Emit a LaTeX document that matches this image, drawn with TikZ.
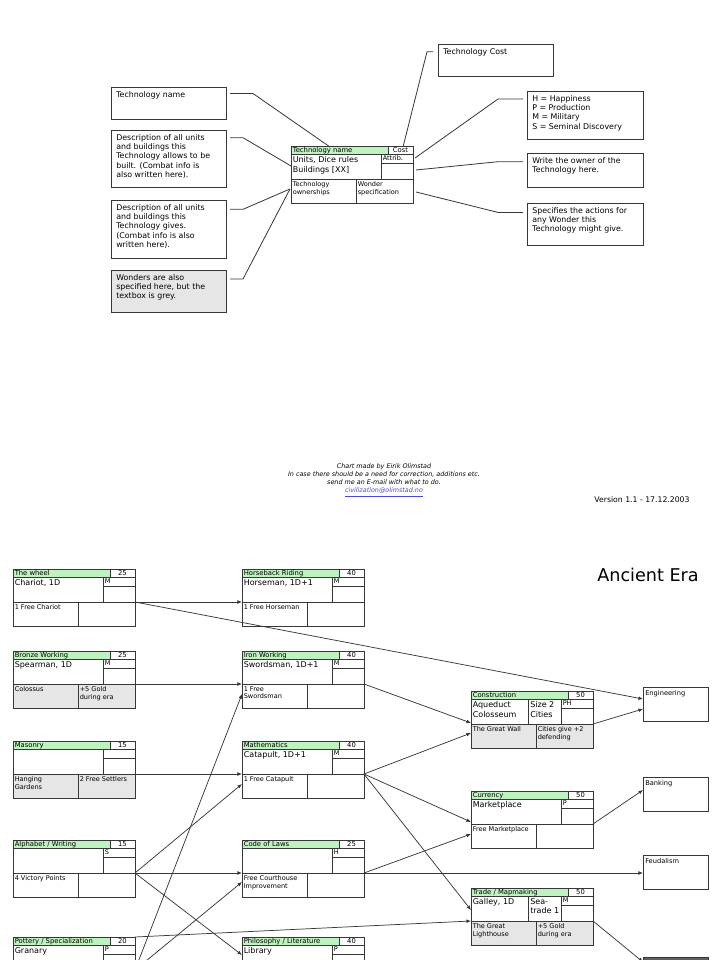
\documentclass[tikz,border=0pt]{standalone}
\usepackage{fontspec}
\setmainfont{DejaVu Sans}
\usetikzlibrary{calc,arrows.meta}

\definecolor{hdrgreen}{RGB}{190,242,190}
\definecolor{wgray}{RGB}{230,230,230}
\definecolor{lnc}{RGB}{55,55,55}
\definecolor{linkblue}{RGB}{70,70,220}
\definecolor{darkbox}{RGB}{95,95,95}

\tikzset{
  frame/.style={draw=lnc, line width=0.75pt, inner sep=0pt, outer sep=0pt},
  cell/.style={draw=lnc, line width=0.75pt},
  conn/.style={draw=lnc, line width=0.55pt, -{Latex[length=3.4pt,width=2.8pt]}},
  leg/.style={draw=lnc, line width=0.6pt},
  hdr/.style={font=\fontsize{5.1}{5.6}\selectfont, inner sep=0pt, anchor=west},
  maintx/.style={font=\fontsize{6}{7.3}\selectfont, inner sep=0pt, anchor=north west, align=left},
  bottx/.style={font=\fontsize{4.9}{5.9}\selectfont, inner sep=0pt, anchor=north west, align=left},
  boxtx/.style={font=\fontsize{5.9}{7}\selectfont, inner sep=0pt, anchor=north west, align=left},
  erastyle/.style={font=\fontsize{5}{6}\selectfont, inner sep=0pt, anchor=north west, align=left},
}

% technology card: [bottom fill]{name}{(x,y)}{title}{cost}{attrib}{main}{bottom left}{bottom right}
\newcommand\tcard[9][white]{%
  \begin{scope}[shift={#3}]
    \fill[#1] (0,33) rectangle (122,57);
    \fill[hdrgreen] (0,0) rectangle (97,8.5);
    \node[frame, minimum width=91.5pt, minimum height=42.75pt, anchor=north west] (#2) at (0,0) {};
    \draw[cell] (97,0) -- (97,8.5) (0,8.5) -- (122,8.5) (90,8.5) -- (90,33)
                (90,17) -- (122,17) (0,33) -- (122,33) (65,33) -- (65,57);
    \node[hdr] (#2-ti) at (1.5,4.4) {#4};
    \node[hdr, anchor=center] (#2-co) at (109.5,4.4) {#5};
    \node[bottx] (#2-at) at (91.5,9.6) {#6};
    \node[maintx] (#2-ma) at (1.5,10) {#7};
    \node[bottx] (#2-bl) at (1.5,35) {#8};
    \node[bottx] (#2-br) at (66.5,35) {#9};
  \end{scope}}

% extra split cell in the main row
\newcommand\midcell[2]{%
  \draw[cell] ($(#1.north west)+(57,8.5)$) -- ($(#1.north west)+(57,33)$);
  \node[maintx] (#1-mid) at ($(#1.north west)+(59,10)$) {#2};}

% legend text box: [fill]{name}{x}{y}{w}{h}{text}
\newcommand\tbox[7][white]{%
  \node[frame, fill=#1, minimum width=#5*0.75pt, minimum height=#6*0.75pt, anchor=north west] (#2) at (#3,#4) {};
  \node[boxtx] (#2-t) at ($(#2.north west)+(5,4)$) {#7};}

% small box of the next era: [fill]{name}{x}{y}{text}
\newcommand\erabox[5][white]{%
  \node[frame, fill=#1, minimum width=48.75pt, minimum height=25.5pt, anchor=north west] (#2) at (#3,#4) {};
  \node[erastyle] (#2-t) at ($(#2.north west)+(2,3)$) {#5};}

\begin{document}
\begin{tikzpicture}[x=0.75pt,y=-0.75pt]
\useasboundingbox (0,0) rectangle (720,960);
\fill[white] (0,0) rectangle (720,960);

% ---------------- legend ----------------
\tbox{lb1}{111}{87}{115}{32}{Technology name}
\tbox{lb2}{111}{130}{115}{57}{Description of all units\\and buildings this\\Technology allows to be\\built. (Combat info is\\also written here).}
\tbox{lb3}{111}{200}{115}{58}{Description of all units\\and buildings this\\Technology gives.\\(Combat info is also\\written here).}
\tbox[wgray]{lb4}{111}{270}{115}{42}{Wonders are also\\specified here, but the\\textbox is grey.}
\tbox{rb1}{438}{44}{115}{32}{Technology Cost}
\tbox{rb2}{527}{91}{116}{48}{H = Happiness\\P = Production\\M = Military\\S = Seminal Discovery}
\tbox{rb3}{527}{153}{116}{34}{Write the owner of the\\Technology here.}
\tbox{rb4}{527}{203}{116}{42}{Specifies the actions for\\any Wonder this\\Technology might give.}

\tcard{lcard}{(291,146)}{Technology name}{Cost}{Attrib.}{Units, Dice rules\\Buildings [XX]}{Technology\\ownerships}{Wonder\\specification}

\draw[leg] ($(lb1.north east)+(4,6.5)$) -- ++(23,0) -- ($(lcard.north west)+(39,1)$);
\draw[leg] ($(lb2.north east)+(4,7.7)$) -- ++(13,0) -- ($(lcard.north west)+(0,20)$);
\draw[leg] ($(lb3.north east)+(4,9.3)$) -- ++(13,0) -- ($(lcard.north west)+(-1,43)$);
\draw[leg] ($(lb4.north east)+(4,9)$) -- ++(13,0) -- ($(lcard.north west)+(-1,43)$);
\draw[leg] ($(rb1.north west)+(-5,7.7)$) -- ++(-6,0) -- ($(lcard.north west)+(112,1)$);
\draw[leg] ($(rb2.north west)+(-4,8)$) -- ++(-25,0) -- ($(lcard.north west)+(124,12)$);
\draw[leg] ($(rb3.north west)+(-4,8.7)$) -- ++(-25,0) -- ($(lcard.north west)+(125,24)$);
\draw[leg] ($(rb4.north west)+(-4,9.4)$) -- ++(-25,0) -- ($(lcard.north west)+(125,46)$);

% ---------------- credits ----------------
\node[font=\fontsize{4.8}{6.2}\selectfont\itshape, align=center, inner sep=0pt, anchor=north] (credits) at (384,463)
  {Chart made by Eirik Olimstad\\In case there should be a need for correction, additions etc.\\send me an E-mail with what to do.\\\textcolor{linkblue}{\underline{civilization@olimstad.no}}};
\node[font=\fontsize{5.8}{6}\selectfont, inner sep=0pt] (version) at (642,500) {Version 1.1 - 17.12.2003};
\node[font=\fontsize{13.2}{14}\selectfont, inner sep=0pt] (era) at (648,575) {Ancient Era};

% ---------------- technology tree ----------------
\tcard{wheel}{(13,569)}{The wheel}{25}{M}{Chariot, 1D}{1 Free Chariot}{}
\tcard[wgray]{bronze}{(13,651)}{Bronze Working}{25}{M}{Spearman, 1D}{Colossus}{+5 Gold\\during era}
\tcard[wgray]{masonry}{(13,741)}{Masonry}{15}{}{}{Hanging\\Gardens}{2 Free Settlers}
\tcard{alpha}{(13,840)}{Alphabet / Writing}{15}{S}{}{4 Victory Points}{}
\tcard{pottery}{(13,937)}{Pottery / Specialization}{20}{P}{Granary}{}{}

\tcard{horse}{(242,569)}{Horseback Riding}{40}{M}{Horseman, 1D+1}{1 Free Horseman}{}
\tcard{iron}{(242,651)}{Iron Working}{40}{M}{Swordsman, 1D+1}{1 Free\\Swordsman}{}
\tcard{math}{(242,741)}{Mathematics}{40}{M}{Catapult, 1D+1}{1 Free Catapult}{}
\tcard{code}{(242,840)}{Code of Laws}{25}{H}{}{Free Courthouse\\Improvement}{}
\tcard{philo}{(242,937)}{Philosophy / Literature}{40}{P}{Library}{}{}

\tcard[wgray]{constr}{(471,691)}{Construction}{50}{PH}{Aqueduct\\Colosseum}{The Great Wall}{Cities give +2\\defending}
\midcell{constr}{Size 2\\Cities}
\tcard{curr}{(471,791)}{Currency}{50}{P}{Marketplace}{Free Marketplace}{}
\tcard[wgray]{trade}{(471,888)}{Trade / Mapmaking}{50}{M}{Galley, 1D}{The Great\\Lighthouse}{+5 Gold\\during era}
\midcell{trade}{Sea-\\trade 1}

\erabox{eng}{643}{687}{Engineering}
\erabox{bank}{643}{777}{Banking}
\erabox{feud}{643}{855}{Feudalism}
\erabox[darkbox]{dark}{643}{957}{}

% connectors
\draw[conn] ($(wheel.north west)+(122,33)$) -- ($(horse.north west)+(0,33)$);
\draw[conn] ($(wheel.north west)+(122,33)$) -- ($(eng.north west)+(0,12)$);
\draw[conn] ($(bronze.north west)+(122,33)$) -- ($(iron.north west)+(0,33)$);
\draw[conn] ($(iron.north west)+(122,33)$) -- ($(constr.north west)+(0,32)$);
\draw[conn] ($(masonry.north west)+(122,33)$) -- ($(math.north west)+(0,33)$);
\draw[conn] ($(alpha.north west)+(122,33)$) -- ($(math.north west)+(0,43)$);
\draw[conn] ($(alpha.north west)+(122,33)$) -- ($(code.north west)+(0,33)$);
\draw[conn] ($(alpha.north west)+(122,33)$) -- ($(philo.north west)+(0,18)$);
\draw[conn] ($(pottery.north west)+(122,33)$) -- ($(iron.north west)+(0,43)$);
\draw[conn] ($(pottery.north west)+(122,33)$) -- ($(code.north west)+(0,42)$);
\draw[conn] ($(pottery.north west)+(122,0)$) -- ($(trade.north west)+(0,33)$);
\draw[conn] ($(math.north west)+(122,33)$) -- ($(constr.north west)+(0,42)$);
\draw[conn] ($(math.north west)+(122,33)$) -- ($(curr.north west)+(0,31)$);
\draw[conn] ($(math.north west)+(122,33)$) -- ($(trade.north west)+(0,22)$);
\draw[conn] ($(code.north west)+(122,33)$) -- ($(curr.north west)+(0,43)$);
\draw[conn] ($(code.north west)+(122,33)$) -- ($(feud.north west)+(0,18)$);
\draw[conn] ($(constr.north west)+(122,33)$) -- ($(eng.north west)+(0,22)$);
\draw[conn] ($(curr.north west)+(122,33)$) -- ($(bank.north west)+(0,13)$);
\draw[conn] ($(trade.north west)+(122,33)$) -- ($(dark.north west)+(0,5)$);
\end{tikzpicture}
\end{document}
